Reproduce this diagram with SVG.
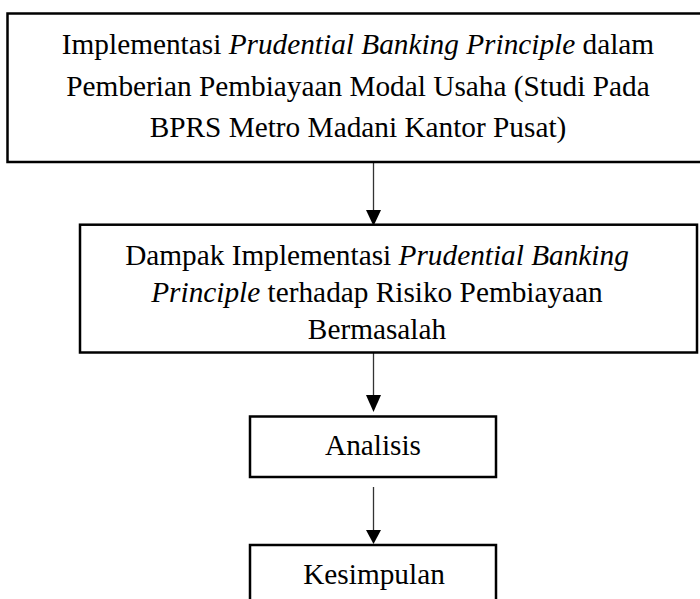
<svg xmlns="http://www.w3.org/2000/svg" width="700" height="599" viewBox="0 0 700 599">
<style>
.box{fill:#fff;stroke:#000;stroke-width:2.5}
.t{font-family:"Liberation Serif","Times New Roman",serif;font-size:29.3px;fill:#000;text-anchor:middle}
.i{font-style:italic}
.ln{stroke:#333;stroke-width:1.3;fill:none}
.hd{fill:#000}
</style>
<rect width="700" height="599" fill="#fff"/>
<g id="connectors">
<line class="ln" x1="373.5" y1="163" x2="373.5" y2="212"/>
<polygon class="hd" points="366,210 381,210 373.5,226"/>
<line class="ln" x1="373.5" y1="353" x2="373.5" y2="397"/>
<polygon class="hd" points="366,395 381,395 373.5,412"/>
<line class="ln" x1="373.5" y1="487" x2="373.5" y2="532"/>
<polygon class="hd" points="366,530 381,530 373.5,544"/>
</g>
<g id="node1">
<rect class="box" x="7.5" y="13.5" width="700" height="148.5"/>
<text class="t" x="358" y="54">Implementasi <tspan class="i">Prudential Banking Principle</tspan> dalam</text>
<text class="t" x="358" y="96">Pemberian Pembiayaan Modal Usaha (Studi Pada</text>
<text class="t" x="358" y="137">BPRS Metro Madani Kantor Pusat)</text>
</g>
<g id="node2">
<rect class="box" x="80" y="224.7" width="617" height="127.8"/>
<text class="t" x="377" y="265">Dampak Implementasi <tspan class="i">Prudential Banking</tspan></text>
<text class="t" x="377" y="302"><tspan class="i">Principle</tspan> terhadap Risiko Pembiayaan</text>
<text class="t" x="377" y="339">Bermasalah</text>
</g>
<g id="node3">
<rect class="box" x="250" y="416.5" width="246" height="60.5"/>
<text class="t" x="373" y="455">Analisis</text>
</g>
<g id="node4">
<rect class="box" x="250" y="545" width="246" height="70"/>
<text class="t" x="374" y="584">Kesimpulan</text>
</g>
</svg>
